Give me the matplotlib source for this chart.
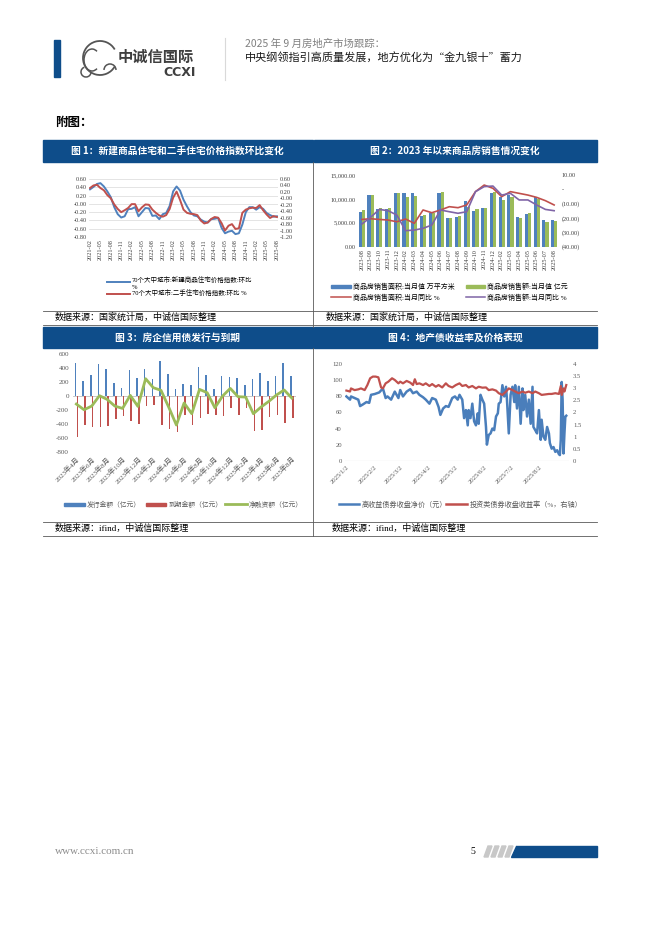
import matplotlib
matplotlib.use("Agg")
import matplotlib.pyplot as plt
from matplotlib.patches import Rectangle, Polygon, Arc
import numpy as np
import pandas as pd

plt.rcParams['font.family'] = ['Liberation Serif', 'Noto Sans CJK SC', 'DejaVu Sans']
plt.rcParams['axes.unicode_minus'] = False

CJK = ['Noto Sans CJK SC', 'DejaVu Sans']
NAVY = '#0E4D8A'
BLUE = '#4F81BD'
RED = '#C0504D'
GREEN = '#9BBB59'
PURPLE = '#7F64A6'

# ---------------- data ----------------
# fig 1: 70-city price index MoM, 2021-02 .. 2025-08
price_months = [str(p) for p in pd.period_range('2021-02', '2025-08', freq='M')]
new_home_mom = [0.35, 0.41, 0.48, 0.50, 0.42, 0.30, 0.16, -0.08, -0.25, -0.33, -0.30,
                -0.13, -0.12, -0.08, -0.30, -0.20, -0.10, -0.11, -0.29, -0.28, -0.37, -0.25, -0.22,
                -0.05, 0.30, 0.42, 0.32, 0.10, -0.06, -0.20, -0.28, -0.30, -0.38, -0.43, -0.45,
                -0.37, -0.36, -0.34, -0.58, -0.71, -0.67, -0.65, -0.73, -0.71, -0.50, -0.20, -0.08,
                -0.08, -0.14, -0.08, -0.12, -0.22, -0.27, -0.31, -0.30]
second_hand_mom = [0.32, 0.40, 0.42, 0.32, 0.25, 0.10, 0.00, -0.19, -0.33, -0.43, -0.37,
                   -0.30, -0.18, -0.18, -0.40, -0.28, -0.19, -0.20, -0.35, -0.45, -0.53, -0.57, -0.52,
                   -0.33, 0.02, 0.21, -0.05, -0.35, -0.45, -0.48, -0.49, -0.52, -0.69, -0.78, -0.75,
                   -0.64, -0.58, -0.60, -0.77, -1.00, -0.85, -0.80, -0.95, -0.93, -0.45, -0.35, -0.31,
                   -0.29, -0.30, -0.21, -0.37, -0.50, -0.61, -0.55, -0.58]

# fig 2: monthly sales since 2023-08
sales_months = ['2023-08', '2023-09', '2023-10', '2023-11', '2023-12',
                '2024-02', '2024-03', '2024-04', '2024-05', '2024-06', '2024-07', '2024-08',
                '2024-09', '2024-10', '2024-11', '2024-12',
                '2025-02', '2025-03', '2025-04', '2025-05', '2025-06', '2025-07', '2025-08']
sales_area = [7300, 10800, 7900, 7800, 11200, 11300, 11300, 6500, 7000, 11300, 6100, 6300,
              9550, 7450, 8000, 11200, 10500, 10800, 6300, 6900, 10300, 5600, 5650]
sales_amount = [7600, 10800, 8000, 8100, 11200, 10500, 10600, 6600, 7100, 11400, 6100, 6350,
                8400, 7900, 8000, 11500, 9800, 10500, 6100, 7000, 9900, 5200, 5300]
area_yoy = [-21.0, -20.5, -21.0, -21.4, -22.6, -20.7, -23.7, -14.4, -16.3, -14.4, -12.1, -12.8,
            -10.9, -1.6, 3.0, 0.7, -5.1, -1.6, -2.8, -4.0, -5.6, -7.9, -10.9]
amount_yoy = [-24.2, -19.5, -14.0, -14.9, -17.9, -28.8, -28.4, -27.2, -24.9, -14.4, -15.6, -16.7,
              -15.6, -1.6, 1.9, 2.3, -4.0, -2.8, -7.4, -7.4, -10.9, -14.0, -14.9]

# fig 3: developer credit bonds, 2023-04 .. 2025-08 (100m yuan)
bond_months = ['2023年4月', '2023年5月', '2023年6月', '2023年7月', '2023年8月', '2023年9月',
               '2023年10月', '2023年11月', '2023年12月', '2024年1月', '2024年2月', '2024年3月',
               '2024年4月', '2024年5月', '2024年6月', '2024年7月', '2024年8月', '2024年9月',
               '2024年10月', '2024年11月', '2024年12月', '2025年1月', '2025年2月', '2025年3月',
               '2025年4月', '2025年5月', '2025年6月', '2025年7月', '2025年8月']
issuance = [470, 220, 297, 455, 384, 192, 110, 370, 259, 393, 250, 499, 321, 96, 173,
            163, 417, 307, 105, 283, 278, 264, 153, 245, 331, 220, 288, 480, 292]
maturity = [-585, -417, -441, -450, -432, -336, -288, -360, -408, -144, -130, -417, -480,
            -513, -273, -417, -321, -259, -273, -283, -168, -273, -168, -499, -489, -297,
            -273, -393, -321]
net_financing = [-115, -197, -144, 5, -48, -144, -178, 10, -149, 249, 120, 82, -159, -417,
                 -100, -254, 96, 48, -168, 0, 110, -9, -15, -254, -158, -77, 15, 87, -29]

# fig 4: property bond yields and prices, 2025
hy_dates = ['01-02', '01-06', '01-07', '01-11', '01-15', '01-17', '01-20', '01-24', '01-27',
            '01-29', '02-02', '02-07', '02-11', '02-14', '02-16', '02-20', '02-24', '02-28',
            '03-02', '03-05', '03-09', '03-13', '03-16', '03-20', '03-23', '03-27', '03-30',
            '04-03', '04-06', '04-10', '04-13', '04-15', '04-18', '04-21', '04-24', '04-28',
            '05-01', '05-04', '05-06', '05-09', '05-11', '05-13', '05-15', '05-16', '05-18',
            '05-20', '05-22', '05-24', '05-26', '05-27', '05-29', '05-31', '06-02', '06-04',
            '06-05', '06-07', '06-09', '06-11', '06-13', '06-15', '06-17', '06-18', '06-20',
            '06-22', '06-24', '06-26', '06-27', '06-29', '07-01', '07-03', '07-05', '07-06',
            '07-08', '07-10', '07-12', '07-14', '07-15', '07-17', '07-19', '07-21', '07-23',
            '07-25', '07-26', '07-28', '07-30', '08-01', '08-03', '08-04', '08-06', '08-08',
            '08-10', '08-12', '08-13', '08-15', '08-17', '08-19', '08-21', '08-23', '08-24',
            '08-25', '08-26', '08-27', '08-28', '08-29', '08-30', '08-31']
hy_price = [80, 76, 80, 78, 76, 68, 70, 73, 72, 82, 83, 85, 90, 78, 80, 76, 86, 78,
            88, 80, 86, 89, 84, 86, 82, 79, 76, 71, 78, 76, 67, 57, 65, 68, 67, 78,
            80, 76, 82, 76, 53, 63, 44, 63, 53, 71, 49, 44, 59, 46, 82, 76, 71, 42,
            20, 32, 34, 40, 38, 55, 59, 71, 73, 94, 80, 92, 76, 34, 82, 92, 73, 94,
            65, 92, 46, 90, 63, 82, 55, 76, 46, 92, 42, 38, 34, 63, 26, 51, 30, 26,
            42, 34, 22, 15, 17, 11, 13, 8, 7, 26, 98, 76, 9, 34, 55, 56]
ig_dates = ['01-02', '01-06', '01-07', '01-11', '01-15', '01-18', '01-22', '01-25', '01-28',
            '01-31', '02-03', '02-06', '02-09', '02-11', '02-14', '02-17', '02-21', '02-24',
            '02-28', '03-02', '03-05', '03-09', '03-13', '03-16', '03-18', '03-20', '03-23',
            '03-27', '03-30', '04-03', '04-06', '04-10', '04-13', '04-17', '04-21', '04-24',
            '04-28', '05-02', '05-06', '05-09', '05-13', '05-16', '05-20', '05-24', '05-27',
            '05-31', '06-04', '06-07', '06-11', '06-15', '06-18', '06-22', '06-26', '06-29',
            '07-03', '07-06', '07-10', '07-14', '07-17', '07-21', '07-25', '07-28', '08-01',
            '08-04', '08-08', '08-12', '08-15', '08-19', '08-23', '08-25', '08-26', '08-28',
            '08-29', '08-31']
ig_yield = [2.91, 2.87, 3.00, 2.93, 2.96, 3.00, 2.93, 3.14, 3.42, 3.49, 3.49, 3.46, 3.04,
            3.00, 3.21, 3.28, 3.42, 3.35, 3.21, 3.28, 3.21, 3.31, 3.24, 3.14, 3.38, 3.18,
            3.21, 3.14, 3.21, 3.10, 3.18, 3.07, 3.14, 3.04, 3.21, 3.10, 3.04, 3.14, 3.21,
            3.10, 3.14, 3.04, 3.10, 3.00, 3.07, 3.03, 3.04, 2.93, 2.96, 2.91, 2.80, 2.73,
            2.87, 3.00, 2.93, 2.87, 2.80, 2.87, 2.82, 2.87, 2.80, 2.87, 2.80, 2.73, 2.75,
            2.77, 2.77, 2.80, 2.77, 3.10, 2.73, 3.00, 2.87, 3.14]
yield_ticks = ['2025/1/2', '2025/2/2', '2025/3/2', '2025/4/2', '2025/5/2', '2025/6/2',
               '2025/7/2', '2025/8/2']

# ---------------- page ----------------
W, H = 662, 936
fig = plt.figure(figsize=(W / 100, H / 100), dpi=100)
fig.patch.set_facecolor('white')

bg = fig.add_axes([0, 0, 1, 1])
bg.set_xlim(0, W)
bg.set_ylim(H, 0)
bg.axis('off')


def add_ax(x0, y0, x1, y1):
    ax = fig.add_axes([x0 / W, 1 - y1 / H, (x1 - x0) / W, (y1 - y0) / H])
    ax.set_facecolor('none')
    for s in ax.spines.values():
        s.set_visible(False)
    ax.tick_params(length=0, labelsize=4.5, pad=1.5, colors='#404040')
    return ax


# header
bg.add_patch(Rectangle((54, 40), 6, 37, color=NAVY))
# elephant logo (rough outline)
bg.add_patch(Arc((100, 58), 34, 34, theta1=30, theta2=330, color='#555555', lw=1.3))
bg.add_patch(Arc((92, 60), 16, 22, theta1=60, theta2=300, color='#555555', lw=1.1))
bg.add_patch(Arc((110, 70), 12, 12, theta1=180, theta2=360, color='#555555', lw=1.1))
bg.add_patch(Arc((86, 72), 10, 10, theta1=0, theta2=250, color='#555555', lw=1.1))
bg.text(118, 57, '中诚信国际', family=CJK, fontsize=11, fontweight='bold',
        color='#3F3F3F', va='center')
bg.text(196, 72, 'CCXI', family='Liberation Sans Narrow', fontsize=9, fontweight='bold',
        color='#3F3F3F', va='center', ha='right')
bg.plot([225, 225], [38, 80], color='#D9D9D9', lw=0.8)
bg.text(245, 44, '2025 年 9 月房地产市场跟踪：', family=CJK, fontsize=7.5,
        color='#808080', va='center')
bg.text(245, 58, '中央纲领指引高质量发展，地方优化为“金九银十”蓄力', family=CJK,
        fontsize=8, color='#1A1A1A', va='center')
bg.text(55, 122, '附图：', family=CJK, fontsize=9, fontweight='bold', va='center')

# table frame
for (x0, x1, y0, y1, t) in [(43, 312.5, 140, 162, '图 1：新建商品住宅和二手住宅价格指数环比变化'),
                             (313.5, 597, 140, 162, '图 2：2023 年以来商品房销售情况变化'),
                             (43, 312.5, 327, 348, '图 3：房企信用债发行与到期'),
                             (313.5, 597, 327, 348, '图 4：地产债收益率及价格表现')]:
    bg.add_patch(Rectangle((x0, y0), x1 - x0, y1 - y0, color=NAVY))
    bg.text((x0 + x1) / 2, (y0 + y1) / 2, t, family=CJK, fontsize=7, fontweight='bold',
            color='white', ha='center', va='center')

for y in [310.5, 324.5, 521.5, 536]:
    bg.plot([43, 597], [y, y], color='#595959', lw=0.6)
bg.plot([313, 313], [162, 327], color='#595959', lw=0.6)
bg.plot([313, 313], [348, 536], color='#595959', lw=0.6)
bg.text(55, 317, '数据来源：国家统计局，中诚信国际整理', family=CJK, fontsize=6.5, va='center')
bg.text(326, 317, '数据来源：国家统计局，中诚信国际整理', family=CJK, fontsize=6.5, va='center')
bg.text(55, 528, '数据来源：ifind，中诚信国际整理', family=['Liberation Serif'] + CJK,
        fontsize=6.5, va='center')
bg.text(332, 528, '数据来源：ifind，中诚信国际整理', family=['Liberation Serif'] + CJK,
        fontsize=6.5, va='center')

# footer
bg.text(55, 852, 'www.ccxi.com.cn', fontsize=8, color='#8C8C8C', va='center')
bg.text(470, 852, '5', fontsize=7, va='center')
for i in range(4):
    x0 = 484 + i * 7
    bg.add_patch(Polygon([(x0 + 4, 846), (x0 + 8, 846), (x0 + 4, 857), (x0, 857)],
                         color='#C8C8C8'))
bg.add_patch(Polygon([(516, 846), (597, 846), (597, 857), (511, 857)], color=NAVY))

# ---------------- fig 1 ----------------
ax1 = add_ax(89, 179, 278, 237)
x1 = np.arange(len(price_months))
ax1.plot(x1, new_home_mom, color=BLUE, lw=1.4)
ax1.set_ylim(-0.8, 0.6)
ax1.set_yticks(np.round(np.arange(-0.8, 0.61, 0.2), 2))
ax1.yaxis.set_major_formatter(lambda v, p: f'{v:.2f}')
ax1.grid(axis='y', color='#D9D9D9', lw=0.5)
ax1.set_axisbelow(True)
ax1.set_xlim(-0.3, len(price_months) - 0.7)
ax1.set_xticks(x1[::3])
ax1.set_xticklabels(price_months[::3], rotation=90)
ax1r = ax1.twinx()
for s in ax1r.spines.values():
    s.set_visible(False)
ax1r.plot(x1, second_hand_mom, color=RED, lw=1.4)
ax1r.set_ylim(-1.2, 0.6)
ax1r.set_yticks(np.round(np.arange(-1.2, 0.61, 0.2), 2))
ax1r.yaxis.set_major_formatter(lambda v, p: f'{v:.2f}')
ax1r.tick_params(length=0, labelsize=4.5, pad=1.5, colors='#404040')

bg.plot([107, 130], [282, 282], color=BLUE, lw=1.4)
bg.text(132, 280.5, '70个大中城市:新建商品住宅价格指数:环比', fontsize=4.7, va='center')
bg.text(132, 287.5, '%', fontsize=4.7, va='center')
bg.plot([107, 130], [294, 294], color=RED, lw=1.4)
bg.text(132, 293, '70个大中城市:二手住宅价格指数:环比 %', fontsize=4.7, va='center')

# ---------------- fig 2 ----------------
ax2 = add_ax(357.5, 175, 558.5, 246.7)
x2 = np.arange(len(sales_months))
ax2.bar(x2 - 0.18, sales_area, 0.36, color=BLUE)
ax2.bar(x2 + 0.18, sales_amount, 0.36, color=GREEN)
ax2.set_ylim(0, 15000)
ax2.set_yticks([0, 5000, 10000, 15000])
ax2.yaxis.set_major_formatter(lambda v, p: f'{v:,.2f}')
ax2.set_xlim(-0.5, len(sales_months) - 0.5)
ax2.set_xticks(x2)
ax2.set_xticklabels(sales_months, rotation=90)
ax2r = ax2.twinx()
for s in ax2r.spines.values():
    s.set_visible(False)
ax2r.plot(x2, area_yoy, color=RED, lw=1.2)
ax2r.plot(x2, amount_yoy, color=PURPLE, lw=1.2)
ax2r.set_ylim(-40, 10)
ax2r.set_yticks([-40, -30, -20, -10, 0, 10])
ax2r.yaxis.set_major_formatter(
    lambda v, p: '-' if v == 0 else (f'({abs(v):.2f})' if v < 0 else f'{v:.2f}'))
ax2r.tick_params(length=0, labelsize=4.5, pad=2, colors='#404040')

bg.add_patch(Rectangle((331, 284.5), 20, 3, color=BLUE))
bg.text(353, 286, '商品房销售面积:当月值 万平方米', fontsize=5, va='center')
bg.add_patch(Rectangle((466, 284.5), 19, 3, color=GREEN))
bg.text(487, 286, '商品房销售额:当月值 亿元', fontsize=5, va='center')
bg.plot([331, 351], [297, 297], color=RED, lw=1.1)
bg.text(353, 297, '商品房销售面积:当月同比 %', fontsize=5, va='center')
bg.plot([466, 485], [297, 297], color=PURPLE, lw=1.1)
bg.text(487, 297, '商品房销售额:当月同比 %', fontsize=5, va='center')

# ---------------- fig 3 ----------------
ax3 = add_ax(72.5, 354.3, 295.7, 451.7)
x3 = np.arange(len(bond_months))
ax3.bar(x3 - 0.12, issuance, 0.2, color=BLUE)
ax3.bar(x3 + 0.12, maturity, 0.2, color=RED)
ax3.plot(x3, net_financing, color=GREEN, lw=2.0, solid_joinstyle='round')
ax3.axhline(0, color='#BFBFBF', lw=0.6, zorder=0)
ax3.set_ylim(-800, 600)
ax3.set_yticks(range(-800, 601, 200))
ax3.set_xlim(-0.5, len(bond_months) - 0.5)
ax3.set_xticks(x3[::2])
ax3.set_xticklabels(bond_months[::2], rotation=45, ha='right', va='top',
                    rotation_mode='anchor')
ax3.tick_params(colors='#595959', pad=2.5, labelsize=5)

bg.add_patch(Rectangle((64, 502.5), 21, 3, color=BLUE))
bg.text(87, 504, '发行金额（亿元）', fontsize=4.9, color='#595959', va='center')
bg.add_patch(Rectangle((146, 502.5), 20, 3, color=RED))
bg.text(168.5, 504, '到期金额（亿元）', fontsize=4.9, color='#595959', va='center')
bg.plot([225, 247], [504, 504], color=GREEN, lw=2.0)
bg.text(249, 504, '净融资额（亿元）', fontsize=4.9, color='#595959', va='center')

# ---------------- fig 4 ----------------
ax4 = add_ax(345.5, 364.3, 569, 460.7)
hy_x = pd.to_datetime(['2025-' + d for d in hy_dates])
ig_x = pd.to_datetime(['2025-' + d for d in ig_dates])
ax4.plot(hy_x, hy_price, color='#4A7EBB', lw=1.8)
ax4.set_ylim(0, 120)
ax4.set_yticks(range(0, 121, 20))
ax4.set_xlim(pd.Timestamp('2025-01-01'), pd.Timestamp('2025-09-03'))
ax4.axhline(0, color='#BFBFBF', lw=0.8)
tick_pos = pd.to_datetime([t.replace('/', '-') for t in yield_ticks])
ax4.set_xticks(tick_pos)
ax4.set_xticklabels(yield_ticks, rotation=45, ha='right', va='top', rotation_mode='anchor')
ax4.tick_params(colors='#595959', pad=2.5, labelsize=4.8)
ax4r = ax4.twinx()
for s in ax4r.spines.values():
    s.set_visible(False)
ax4r.plot(ig_x, ig_yield, color=RED, lw=1.6)
ax4r.set_ylim(0, 4)
ax4r.set_yticks(np.arange(0, 4.01, 0.5))
ax4r.yaxis.set_major_formatter(lambda v, p: f'{v:g}')
ax4r.tick_params(length=0, labelsize=4.8, pad=3, colors='#595959')

bg.plot([339, 359], [504, 504], color='#4A7EBB', lw=1.8)
bg.text(362, 504, '高收益债券收盘净价（元）', fontsize=5.1, color='#595959', va='center')
bg.plot([446, 467], [504, 504], color=RED, lw=1.8)
bg.text(470, 504, '投资类债券收盘收益率（%，右轴）', fontsize=5.1, color='#595959', va='center')

fig.savefig('out.png', dpi=100)
